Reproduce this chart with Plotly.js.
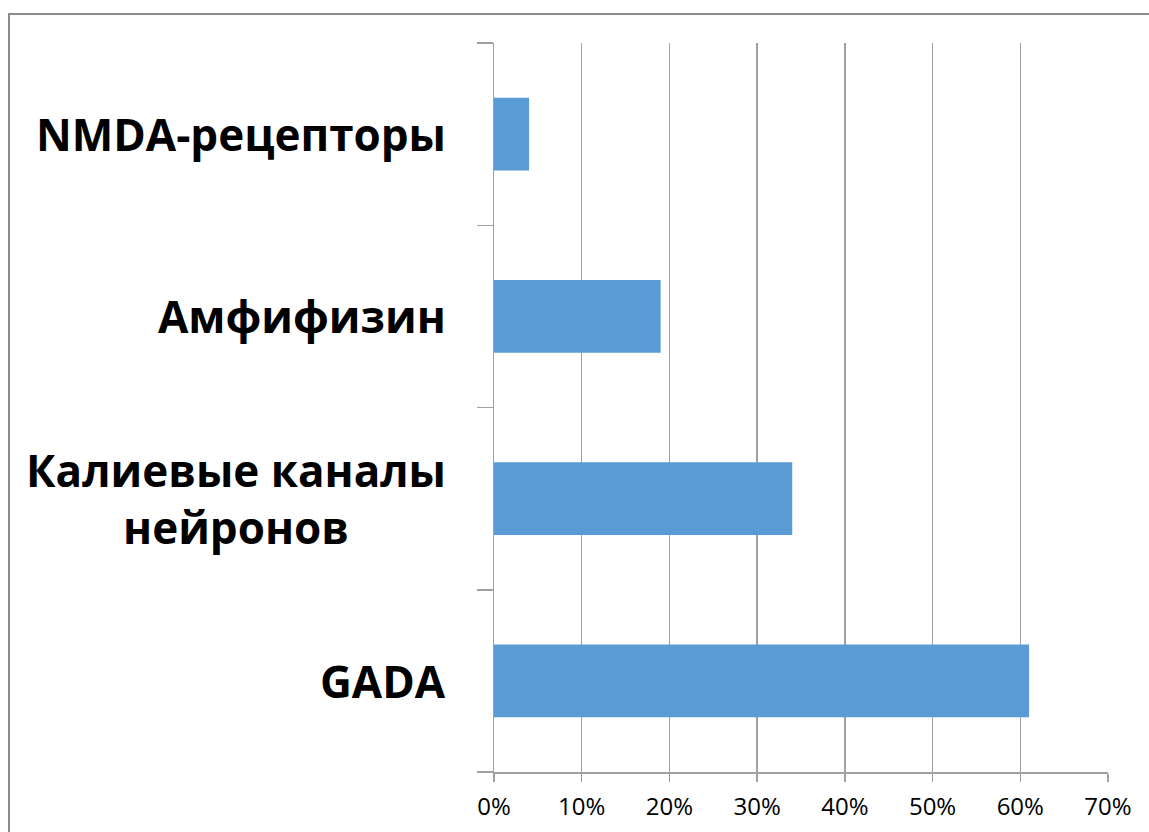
<!DOCTYPE html>
<html>
<head>
<meta charset="utf-8">
<script src="https://cdn.plot.ly/plotly-3.0.1.min.js"></script>
<style>
html,body{margin:0;padding:0;background:#fff;}
#frame{position:absolute;left:8px;top:13px;width:1200px;height:900px;border-left:2px solid #8c8c8c;border-top:2px solid #8c8c8c;pointer-events:none;z-index:5;}
#chart{position:absolute;left:0;top:0;width:1149px;height:832px;}
</style>
</head>
<body>
<div id="chart"></div>
<div id="frame"></div>
<script>
const categories = ['GADA', 'Калиевые каналы<br>нейронов', 'Амфифизин', 'NMDA-рецепторы'];
const values = [0.61, 0.34, 0.19, 0.04];
const xTickValues = [0, 0.1, 0.2, 0.3, 0.4, 0.5, 0.6, 0.7];

const trace = {
  type: 'bar',
  orientation: 'h',
  y: categories,
  x: values,
  marker: {color: '#5B9BD5'},
  hoverinfo: 'none'
};

const annotations = categories.map(c => ({
  xref: 'paper', yref: 'y',
  x: -0.075, y: c,
  xanchor: 'right', yanchor: 'middle',
  align: 'center',
  text: c,
  showarrow: false,
  font: {family: 'Open Sans', size: 44, color: '#000', weight: 'bold'}
}));

const layout = {
  width: 1149, height: 832,
  margin: {l: 494, r: 41, t: 43, b: 60},
  paper_bgcolor: '#fff', plot_bgcolor: '#fff',
  showlegend: false,
  bargap: 0.6,
  xaxis: {
    range: [0, 0.7],
    tickvals: xTickValues,
    tickformat: '.0%',
    showgrid: true, gridcolor: '#A0A0A0', gridwidth: 1.5,
    showline: true, linecolor: '#A0A0A0', linewidth: 1.5,
    ticks: 'outside', ticklen: 8, tickcolor: '#A0A0A0', tickwidth: 1.5,
    ticklabelstandoff: 5,
    zeroline: false,
    tickfont: {family: 'Open Sans', size: 24, color: '#000'},
    fixedrange: true
  },
  yaxis: {
    type: 'category',
    categoryorder: 'array', categoryarray: categories,
    showticklabels: false,
    showgrid: false, zeroline: false,
    showline: true, linecolor: '#A0A0A0', linewidth: 1.5,
    ticks: 'outside', ticklen: 16, tickcolor: '#A0A0A0', tickwidth: 1.5,
    tickson: 'boundaries',
    fixedrange: true
  },
  annotations: annotations
};

Plotly.newPlot('chart', [trace], layout, {displayModeBar: false, staticPlot: true});
</script>
</body>
</html>
